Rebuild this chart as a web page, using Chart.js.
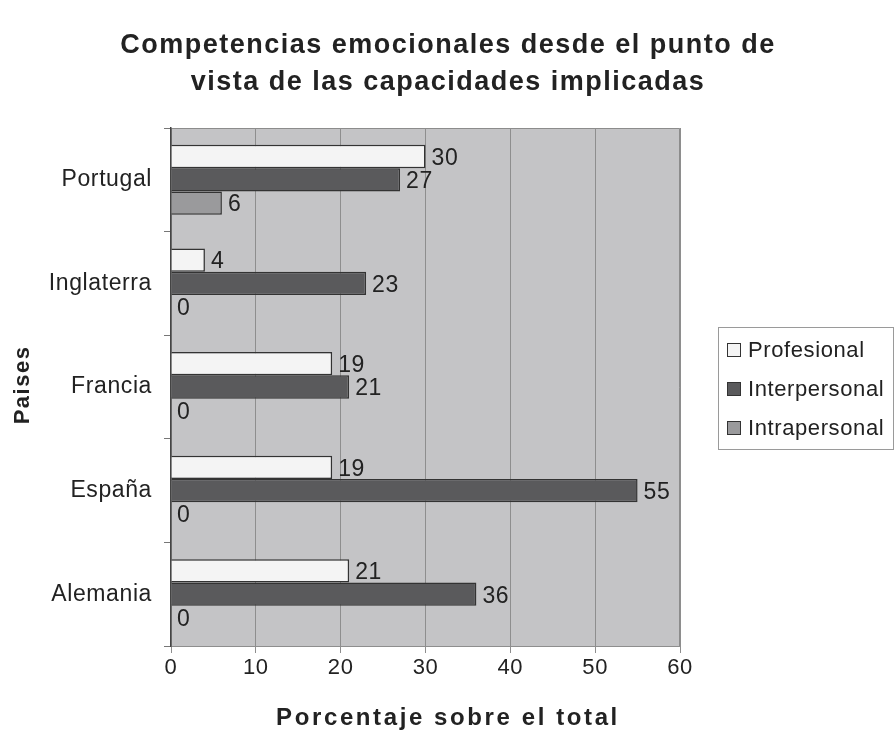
<!DOCTYPE html>
<html>
<head>
<meta charset="utf-8">
<script src="https://cdn.jsdelivr.net/npm/chart.js@4/dist/chart.umd.min.js"></script>
<style>
  html, body { margin: 0; padding: 0; background: #fff; }
  #wrap { width: 895px; height: 737px; }
</style>
</head>
<body>
<div id="wrap"><canvas id="chart" width="895" height="737"></canvas></div>
<script>
const paises = ['Portugal', 'Inglaterra', 'Francia', 'España', 'Alemania'];
const profesional = [30, 4, 19, 19, 21];
const interpersonal = [27, 23, 21, 55, 36];
const intrapersonal = [6, 0, 0, 0, 0];
const xTicks = [0, 10, 20, 30, 40, 50, 60];
const titulo = ['Competencias emocionales desde el punto de', 'vista de las capacidades implicadas'];
const tituloX = 'Porcentaje sobre el total';
const tituloY = 'Paises';

const FONT = "'Liberation Sans', Arial, sans-serif";

// fondo gris del area de trazado (y un poco de espaciado de letras como el original)
const plotBg = {
    id: 'plotBg',
    beforeDraw(chart) {
        const a = chart.chartArea, ctx = chart.ctx;
        ctx.letterSpacing = '0.6px';
        ctx.save();
        ctx.fillStyle = '#c4c4c6';
        ctx.fillRect(a.left, a.top, a.right - a.left, a.bottom - a.top);
        ctx.strokeStyle = '#8c8c8c';
        ctx.lineWidth = 1;
        ctx.beginPath();
        ctx.moveTo(a.left, a.top + 0.5);
        ctx.lineTo(a.right - 0.5, a.top + 0.5);
        ctx.lineTo(a.right - 0.5, a.bottom);
        ctx.stroke();
        ctx.restore();
    }
};

// etiquetas de valor, titulos y leyenda con borde
const extras = {
    id: 'extras',
    afterDatasetsDraw(chart) {
        const ctx = chart.ctx;
        ctx.save();
        ctx.letterSpacing = '0.6px';
        ctx.font = '23px ' + FONT;
        ctx.fillStyle = '#222';
        ctx.textBaseline = 'middle';
        ctx.textAlign = 'left';
        chart.data.datasets.forEach((ds, i) => {
            chart.getDatasetMeta(i).data.forEach((bar, j) => {
                ctx.fillText(String(ds.data[j]), bar.x + 6, bar.y + 2);
            });
        });
        ctx.restore();
    },
    afterDraw(chart) {
        const ctx = chart.ctx;
        ctx.save();
        ctx.fillStyle = '#222';
        ctx.textAlign = 'center';
        ctx.textBaseline = 'middle';

        // titulo principal
        ctx.letterSpacing = '1.5px';
        ctx.font = 'bold 27px ' + FONT;
        ctx.fillText(titulo[0], 448, 46);
        ctx.fillText(titulo[1], 448, 83);

        // titulo eje x
        ctx.letterSpacing = '2.6px';
        ctx.font = 'bold 24px ' + FONT;
        ctx.fillText(tituloX, 448, 718);

        // titulo eje y
        ctx.save();
        ctx.translate(23, 385);
        ctx.rotate(-Math.PI / 2);
        ctx.letterSpacing = '1.5px';
        ctx.font = 'bold 22px ' + FONT;
        ctx.fillText(tituloY, 0, 0);
        ctx.restore();

        // leyenda
        ctx.letterSpacing = '0.6px';
        const lx = 718, ly = 327, lw = 175, lh = 122;
        ctx.strokeStyle = '#9a9a9a';
        ctx.lineWidth = 1;
        ctx.strokeRect(lx + 0.5, ly + 0.5, lw, lh);
        ctx.font = '22px ' + FONT;
        ctx.textAlign = 'left';
        chart.data.datasets.forEach((ds, i) => {
            const cy = 350 + i * 39;
            ctx.fillStyle = ds.backgroundColor;
            ctx.fillRect(727, cy - 7, 14, 14);
            ctx.strokeStyle = '#333';
            ctx.strokeRect(727.5, cy - 6.5, 13, 13);
            ctx.fillStyle = '#222';
            ctx.fillText(ds.label, 748, cy + 1);
        });
        ctx.restore();
    }
};

const ctx = document.getElementById('chart').getContext('2d');
const myChart = new Chart(ctx, {
    type: 'bar',
    data: {
        labels: paises,
        datasets: [
            { label: 'Profesional', data: profesional, backgroundColor: '#f4f4f4' },
            { label: 'Interpersonal', data: interpersonal, backgroundColor: '#5a5a5c' },
            { label: 'Intrapersonal', data: intrapersonal, backgroundColor: '#9a9a9c' }
        ].map(d => Object.assign(d, {
            borderColor: '#333',
            borderWidth: 1.5,
            categoryPercentage: 0.675,
            barPercentage: 1
        }))
    },
    options: {
        indexAxis: 'y',
        responsive: false,
        animation: false,
        layout: { padding: { left: 0, right: 215, top: 128, bottom: 0 } },
        scales: {
            x: {
                min: 0,
                max: 60,
                afterBuildTicks: s => { s.ticks = xTicks.map(v => ({ value: v })); },
                afterFit: s => { s.height = 91; },
                grid: { color: '#8e8e8e', tickLength: 7 },
                border: { color: '#8e8e8e' },
                ticks: { color: '#222', font: { family: FONT, size: 22 }, padding: 2 }
            },
            y: {
                afterFit: s => { s.width = 171; },
                grid: { drawOnChartArea: false, color: '#777', tickLength: 7, offset: true },
                border: { color: '#444', width: 1.5 },
                ticks: { color: '#222', font: { family: FONT, size: 23 }, padding: 12 }
            }
        },
        plugins: {
            legend: { display: false },
            tooltip: { enabled: false },
            title: { display: false }
        }
    },
    plugins: [plotBg, extras]
});
</script>
</body>
</html>
